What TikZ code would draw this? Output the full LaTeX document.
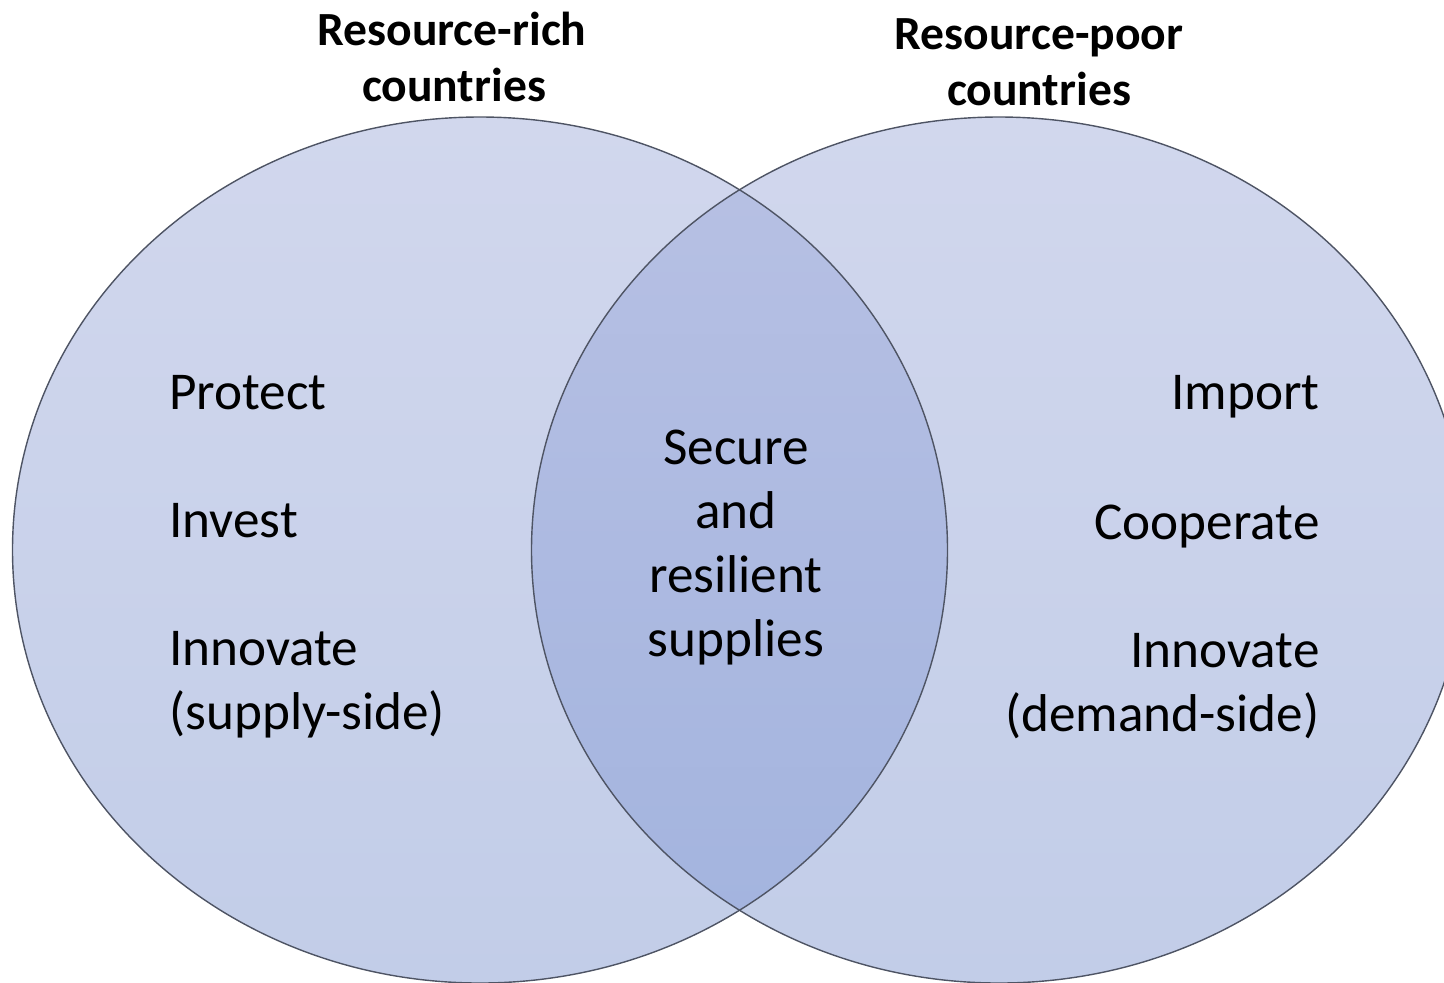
\documentclass[tikz,border=0pt]{standalone}
\usepackage{fontspec}
\setmainfont{Carlito}
\usetikzlibrary{positioning}

\definecolor{ringline}{RGB}{78,84,100}
\definecolor{settop}{RGB}{209,215,237}
\definecolor{setbot}{RGB}{194,205,232}
\definecolor{bothtop}{RGB}{184,193,228}
\definecolor{bothbot}{RGB}{162,179,222}

\tikzset{
    setring/.style={draw=ringline, line width=0.7pt},
    item/.style={inner sep=0pt, font=\fontsize{26.6}{32}\selectfont},
    heading/.style={inner sep=0pt, font=\bfseries\fontsize{23.8}{28}\selectfont},
}

\begin{document}
\begin{tikzpicture}[x=0.5pt, y=-0.5pt]
                \useasboundingbox (0,0) rectangle (1444,982);
                \clip (0,0) rectangle (1444,982);
                % the two sets
                \shade[top color=settop, bottom color=setbot] (480,550) ellipse [x radius=467.5, y radius=433];
                \shade[top color=settop, bottom color=setbot] (999,550) ellipse [x radius=467.5, y radius=433];
                \begin{scope}
                    \clip (480,550) ellipse [x radius=467.5, y radius=433];
                    \shade[top color=bothtop, bottom color=bothbot] (999,550) ellipse [x radius=467.5, y radius=433];
                \end{scope}
                \path[setring] (480,550) ellipse [x radius=467.5, y radius=433];
                \path[setring] (999,550) ellipse [x radius=467.5, y radius=433];
                % headings
                \node[heading, anchor=base] (rich1) at (452,45) {Resource-rich};
                \node[heading, anchor=base] (rich2) at (454,101) {countries};
                \node[heading, anchor=base] (poor1) at (1039,49) {Resource-poor};
                \node[heading, anchor=base] (poor2) at (1039,105) {countries};
                % left set
                \node[item, anchor=base west] (l1) at (169,409) {Protect};
                \node[item, anchor=base west] (l2) at (169,537) {Invest};
                \node[item, anchor=base west] (l3) at (169,665) {Innovate};
                \node[item, anchor=base west] (l4) at (169,729) {(supply-side)};
                % overlap
                \node[item, anchor=base] (m1) at (736,464) {Secure};
                \node[item, anchor=base] (m2) at (736,528) {and};
                \node[item, anchor=base] (m3) at (736,592) {resilient};
                \node[item, anchor=base] (m4) at (736,656) {supplies};
                % right set
                \node[item, anchor=base east] (r1) at (1320,409) {Import};
                \node[item, anchor=base east] (r2) at (1320,539) {Cooperate};
                \node[item, anchor=base east] (r3) at (1320,667) {Innovate};
                \node[item, anchor=base east] (r4) at (1320,731) {(demand-side)};
            \end{tikzpicture}
\end{document}
